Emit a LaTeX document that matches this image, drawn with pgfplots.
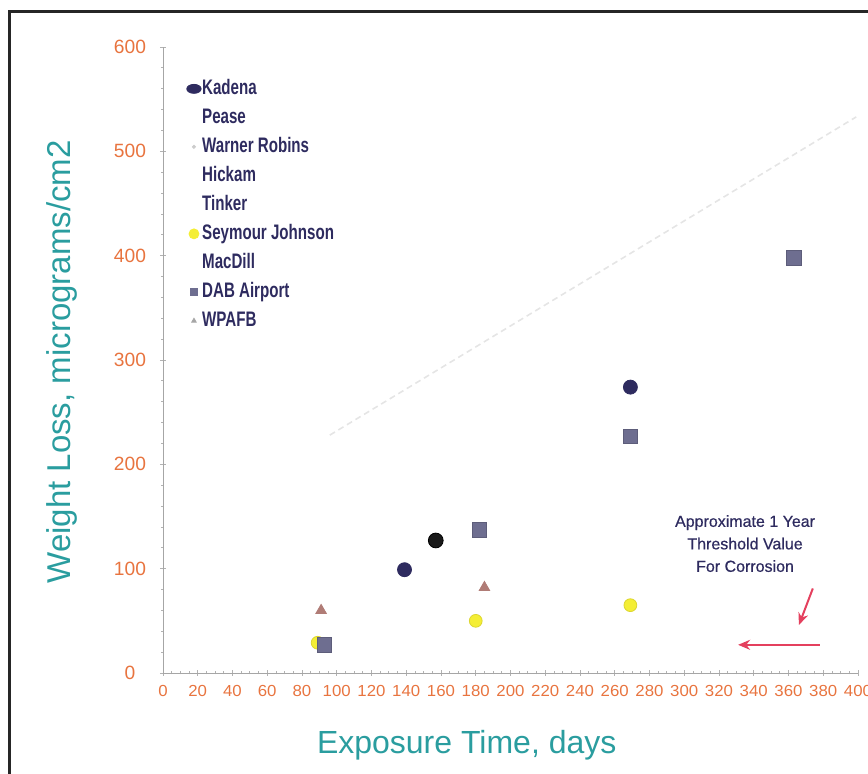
\documentclass[border=0pt]{standalone}
\usepackage{fontspec}
\setmainfont{Liberation Sans}
\newfontfamily\cond[FakeStretch=0.72]{Liberation Sans}
\newfontfamily\condtick[FakeStretch=1.05]{Liberation Sans}
\newfontfamily\annfont[FakeBold=0.6]{Liberation Sans}
\usepackage{pgfplots}
\pgfplotsset{compat=1.18}
\usetikzlibrary{arrows.meta}
\definecolor{navy}{HTML}{2E2B5F}
\definecolor{labteal}{HTML}{2A9D9F}
\definecolor{tickorange}{HTML}{E8743F}
\definecolor{dabgray}{HTML}{6E6E90}
\definecolor{sjyellow}{HTML}{F4EE35}
\definecolor{wpafbc}{HTML}{B07C76}
\definecolor{arrowred}{HTML}{E4405E}
\begin{document}
\begin{tikzpicture}
\useasboundingbox (-81.5pt,-50.5pt) rectangle (352.5pt,336.5pt);
\begin{axis}[
  scale only axis, width=347.5pt, height=313pt,
  xmin=0, xmax=400, ymin=0, ymax=600,
  axis x line=bottom, axis y line=left,
  axis line style={gray!70, line width=0.4pt, -},
  xtick={0,20,...,400}, ytick={0,100,...,600},
  minor x tick num=3, minor y tick num=4,
  tick align=center, major tick length=3pt, minor tick length=1.5pt,
  tick style={gray!60, line width=0.4pt},
  /pgf/number format/assume math mode=true,
  xticklabel style={font=\condtick\fontsize{8}{9}\selectfont, text=tickorange, yshift=-1pt, inner xsep=0pt},
  yticklabel style={font=\fontsize{9.6}{10}\selectfont, text=tickorange, anchor=center, xshift=-15pt},
  ylabel={Weight Loss, micrograms/cm2},
  ylabel style={font=\fontsize{16.5}{18}\selectfont, text=labteal, at={(axis description cs:-0.145,0.497)}, anchor=center},
  xlabel={Exposure Time, days},
  xlabel style={font=\fontsize{16}{18}\selectfont, text=labteal, at={(axis description cs:0.437,-0.115)}, anchor=center},
  legend image code/.code={\path[#1] plot coordinates {(0pt,0pt)};},
  legend style={draw=none, fill=none, at={(axis cs:10,578)}, anchor=north west,
    font=\cond\bfseries\fontsize{10.5}{12}\selectfont, text=navy,
    row sep=0pt, nodes={text height=8pt, text depth=2.5pt, inner ysep=2pt, inner xsep=0.5pt}},
  legend cell align=left,
]
% faint trend line
\addplot[gray!20, densely dashed, line width=0.8pt, forget plot] coordinates {(96,228) (399,533)};
% data
\addplot[only marks, mark=*, mark size=3.2pt, draw=sjyellow!90!black, fill=sjyellow, forget plot]
  coordinates {(89,29) (180,50) (269,65)};
\addplot[only marks, mark=square*, mark size=3.6pt, draw=dabgray!85!black, fill=dabgray, forget plot]
  coordinates {(93,27) (182,137) (269,227) (363,398)};
\addplot[only marks, mark=triangle*, mark size=3pt, draw=wpafbc, fill=wpafbc, forget plot]
  coordinates {(91,60) (185,82)};
\addplot[only marks, mark=*, mark size=3.5pt, draw=navy, fill=navy, forget plot]
  coordinates {(139,99) (269,274)};
\addplot[only marks, mark=*, mark size=3.7pt, draw=black, fill=black!90, forget plot]
  coordinates {(157,127)};
% legend
\addlegendimage{only marks, mark=*, mark size=3pt, mark options={xscale=1.2, yscale=0.75}, draw=navy, fill=navy}
\addlegendentry{Kadena}
\addlegendimage{empty legend}
\addlegendentry{Pease}
\addlegendimage{only marks, mark=*, mark size=0.8pt, draw=gray!40, fill=gray!40}
\addlegendentry{Warner Robins}
\addlegendimage{empty legend}
\addlegendentry{Hickam}
\addlegendimage{empty legend}
\addlegendentry{Tinker}
\addlegendimage{only marks, mark=*, mark size=2.5pt, draw=sjyellow, fill=sjyellow}
\addlegendentry{Seymour Johnson}
\addlegendimage{empty legend}
\addlegendentry{MacDill}
\addlegendimage{only marks, mark=square*, mark size=1.7pt, draw=dabgray, fill=dabgray}
\addlegendentry{DAB Airport}
\addlegendimage{only marks, mark=triangle*, mark size=1.3pt, draw=gray!70, fill=gray!70}
\addlegendentry{WPAFB}
% annotation
\node[align=center, font=\annfont\fontsize{8}{11.25}\selectfont, text=navy] at (axis cs:335,124)
  {Approximate 1 Year\\Threshold Value\\For Corrosion};
\draw[arrowred, line width=1pt, -{Stealth[length=6pt,width=5pt]}] (axis cs:374,81) -- (axis cs:366,46);
\draw[arrowred, line width=1pt, -{Stealth[length=6pt,width=5pt]}] (axis cs:378,27) -- (axis cs:331,27);
\end{axis}
\draw[line width=1.5pt, black!85] (-76.5pt,-50.5pt) -- (-76.5pt,330.5pt) -- (352.5pt,330.5pt);
\end{tikzpicture}
\end{document}
